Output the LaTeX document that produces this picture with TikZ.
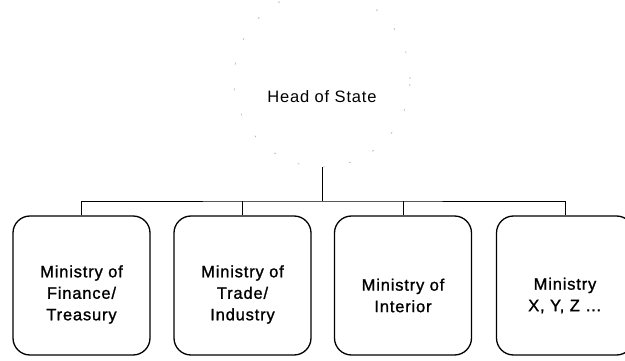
\documentclass[tikz,border=0pt]{standalone}
\usepackage{fontspec}
\setmainfont{Liberation Sans}[LetterSpace=5]
\newfontfamily\boxfont{Liberation Sans}[LetterSpace=5, FakeBold=1.2]
\begin{document}
\begin{tikzpicture}[x=1pt,y=-1pt,
  ministry/.style={draw=black, line width=1.3pt, rounded corners=17pt,
    minimum width=137pt, minimum height=139pt, inner sep=0pt},
  mtext/.style={align=center, inner sep=0pt,
    font=\boxfont\fontsize{16.5}{21.5}\selectfont},
  headring/.style={circle, draw=black!30, line width=0.6pt,
    dash pattern=on 2pt off 24pt, minimum size=176pt, inner sep=0pt},
  link/.style={draw=black, line width=0.8pt}]
  \useasboundingbox (0,0) rectangle (625,361);

  % head of state
  \node[headring] (head) at (322,79) {};
  \node[font=\fontsize{16.5}{20}\selectfont] (headtxt) at (322,97) {Head of State};

  % ministry boxes
  \node[ministry] (b1) at (81.5,285.5) {};
  \node[ministry] (b2) at (242.5,285.5) {};
  \node[ministry] (b3) at (403,285.5) {};
  \node[ministry] (b4) at (565,285.5) {};

  % ministry labels, set a little below the box centres
  \node[mtext] (t1) at ([yshift=-9pt]b1.center) {Ministry of\\Finance/\\Treasury};
  \node[mtext] (t2) at ([yshift=-9pt]b2.center) {Ministry of\\Trade/\\Industry};
  \node[mtext] (t3) at ([yshift=-10pt]b3.center) {Ministry of\\Interior};
  \node[mtext] (t4) at ([yshift=-10pt]b4.center) {Ministry\\X, Y, Z \dots};

  % connectors
  \coordinate (bus) at (322,201);
  \draw[link] (head.south) -- (bus);
  \draw[link] (b1.north) |- (bus) -| (b4.north);
  \draw[link] (b2.north) -- (b2.north |- bus);
  \draw[link] (b3.north) -- (b3.north |- bus);
\end{tikzpicture}
\end{document}
